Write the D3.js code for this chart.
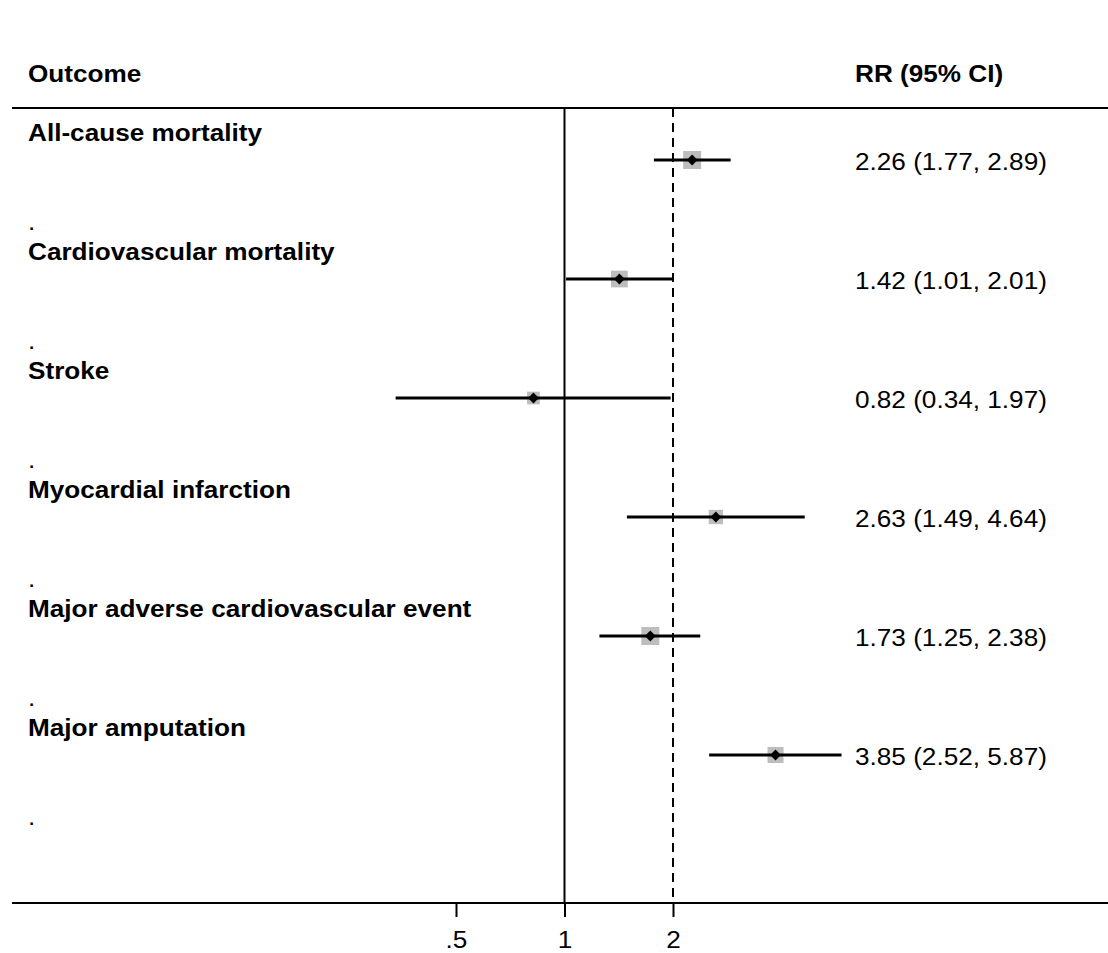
<!DOCTYPE html>
<html>
<head>
<meta charset="utf-8">
<script src="https://cdn.jsdelivr.net/npm/d3@7"></script>
<style>
  body { margin: 0; background: white; }
  text { font-family: "Liberation Sans", Arial, sans-serif; fill: black; }
</style>
</head>
<body>
<svg id="forest"></svg>
<script>
// Data
var outcomes = ["All-cause mortality", "Cardiovascular mortality", "Stroke",
                "Myocardial infarction", "Major adverse cardiovascular event", "Major amputation"]
var rr    = [2.26, 1.42, 0.82, 2.63, 1.73, 3.85]
var lower = [1.77, 1.01, 0.34, 1.49, 1.25, 2.52]
var upper = [2.89, 2.01, 1.97, 4.64, 2.38, 5.87]
var weights = [18.5, 16.0, 9.2, 11.7, 18.5, 14.6]
var overall = 2.0
var tickValues = [0.5, 1, 2]
var tickLabels = [".5", "1", "2"]

var dimensions = {
    width: 1108,
    height: 953,
    headerY: 108,
    axisY: 903,
    rowStart: 160,
    rowStep: 119
}

var svg = d3.select("#forest")
            .attr("width", dimensions.width)
            .attr("height", dimensions.height)

var data = outcomes.map((d, i) => ({
    name: d, rr: rr[i], lo: lower[i], hi: upper[i], w: weights[i]
}))

var xScale = d3.scaleLog()
                .domain([0.5, 2])
                .range([456, 673])

var yScale = d3.scaleLinear()
                .domain([0, 1])
                .range([dimensions.rowStart, dimensions.rowStart + dimensions.rowStep])

var boxScale = d3.scaleSqrt()
                .domain([0, d3.max(weights)])
                .range([0, 18])

var fontSize = 24
// Stata text comes out a bit wider than Liberation Sans at the same height
var stretch = 1.09

function addText(sel, x, y) {
    return sel.append("text")
        .attr("transform", (d, i) => `translate(${typeof x == "function" ? x(d, i) : x},${typeof y == "function" ? y(d, i) : y}) scale(${stretch},1)`)
        .style("font-size", fontSize + "px")
}

// Headers
addText(svg, 28, 82)
    .text("Outcome")
    .style("font-weight", "bold")

addText(svg, 855, 82)
    .text("RR (95% CI)")
    .style("font-weight", "bold")

// Header rule
svg.append("line")
    .attr("x1", 12).attr("x2", dimensions.width)
    .attr("y1", dimensions.headerY).attr("y2", dimensions.headerY)
    .attr("stroke", "black").attr("stroke-width", 2)

// Axis at the bottom
var axis = svg.append("g")
    .attr("transform", `translate(0,${dimensions.axisY})`)
    .call(d3.axisBottom(xScale)
            .tickValues(tickValues)
            .tickFormat((d, i) => tickLabels[i])
            .tickSize(14)
            .tickPadding(14))
axis.select(".domain").remove()
axis.selectAll(".tick line").attr("stroke", "black").attr("stroke-width", 2)
axis.selectAll(".tick text")
    .style("font-size", fontSize + "px")
    .style("font-family", "Liberation Sans, Arial, sans-serif")
    .attr("transform", `scale(${stretch},1)`)
    .attr("x", 0)

svg.append("line")
    .attr("x1", 12).attr("x2", dimensions.width)
    .attr("y1", dimensions.axisY).attr("y2", dimensions.axisY)
    .attr("stroke", "black").attr("stroke-width", 2)

// Null line at 1 and dashed overall line
svg.append("line")
    .attr("x1", xScale(1)).attr("x2", xScale(1))
    .attr("y1", dimensions.headerY).attr("y2", dimensions.axisY)
    .attr("stroke", "black").attr("stroke-width", 2)

svg.append("line")
    .attr("x1", xScale(overall)).attr("x2", xScale(overall))
    .attr("y1", dimensions.headerY).attr("y2", dimensions.axisY)
    .attr("stroke", "black").attr("stroke-width", 2)
    .attr("stroke-dasharray", "9,6")

var rows = svg.selectAll(".row")
    .data(data)
    .enter()
    .append("g")
    .attr("class", "row")

// Outcome labels and the stray "." spacer lines
addText(rows, 28, (d, i) => yScale(i) - 19)
    .text(d => d.name)
    .style("font-weight", "bold")

addText(rows, 28, (d, i) => yScale(i) + 70)
    .text(".")

// Weight boxes
rows.append("rect")
    .attr("x", d => xScale(d.rr) - boxScale(d.w) / 2)
    .attr("y", (d, i) => yScale(i) - boxScale(d.w) / 2)
    .attr("width", d => boxScale(d.w))
    .attr("height", d => boxScale(d.w))
    .attr("fill", "#bdbdbd")

// CI lines
rows.append("line")
    .attr("x1", d => xScale(d.lo))
    .attr("x2", d => xScale(d.hi))
    .attr("y1", (d, i) => yScale(i))
    .attr("y2", (d, i) => yScale(i))
    .attr("stroke", "black")
    .attr("stroke-width", 3)

// Point estimate diamond
rows.append("path")
    .attr("d", d3.symbol().type(d3.symbolDiamond2).size(75))
    .attr("transform", (d, i) => `translate(${xScale(d.rr)},${yScale(i)})`)
    .attr("fill", "black")

// Estimates text
addText(rows, 855, (d, i) => yScale(i) + 10)
    .text(d => `${d.rr.toFixed(2)} (${d.lo.toFixed(2)}, ${d.hi.toFixed(2)})`)
</script>
</body>
</html>
